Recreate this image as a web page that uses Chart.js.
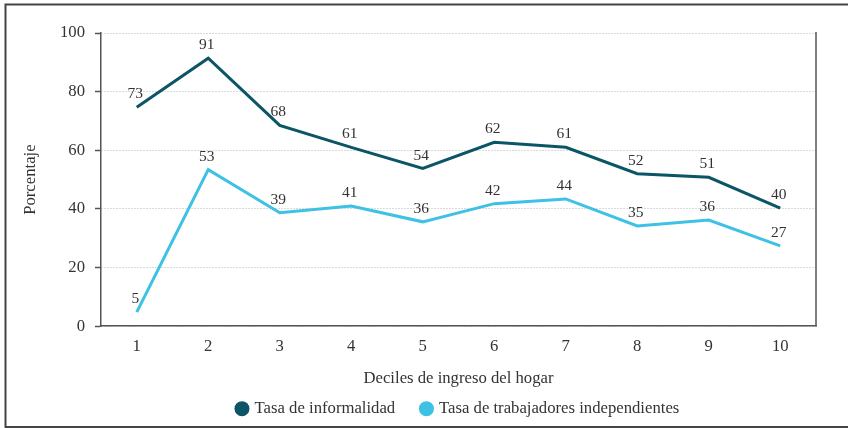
<!DOCTYPE html>
<html>
<head>
<meta charset="utf-8">
<script src="https://cdn.jsdelivr.net/npm/chart.js@4.4.1/dist/chart.umd.min.js"></script>
<style>
  html, body { margin: 0; padding: 0; background: #fff; }
  #wrap { width: 848px; height: 428px; }
</style>
</head>
<body>
<div id="wrap"><canvas id="deciles" width="848" height="428"></canvas></div>
<script>
const deciles = ['1', '2', '3', '4', '5', '6', '7', '8', '9', '10'];
const informalidad = [74.7, 91.4, 68.5, 61.0, 53.8, 62.7, 61.0, 52.0, 50.8, 40.3];
const independientes = [4.8, 53.4, 38.7, 41.0, 35.6, 41.8, 43.4, 34.2, 36.2, 27.4];
const etiquetasInformalidad = ['73', '91', '68', '61', '54', '62', '61', '52', '51', '40'];
const etiquetasIndependientes = ['5', '53', '39', '41', '36', '42', '44', '35', '36', '27'];

const serif = 'Liberation Serif, Times New Roman, serif';
const textColor = '#333';
const fontSize = 16.7;

// frame around the figure and right edge of the plot
const framePlugin = {
    id: 'frame',
    afterLayout(chart) {
        // center the legend under the plot area, not the canvas
        const lg = chart.legend;
        const area = chart.chartArea;
        const off = (area.left + area.right) / 2 - (lg.left + lg.right) / 2;
        lg.left += off;
        lg.right += off;
    },
    afterDraw(chart) {
        const ctx = chart.ctx;
        const area = chart.chartArea;
        ctx.save();
        ctx.strokeStyle = '#444';
        ctx.lineWidth = 2;
        ctx.beginPath();
        ctx.moveTo(860, 4.5);
        ctx.lineTo(5.5, 4.5);
        ctx.lineTo(5.5, 427);
        ctx.lineTo(860, 427);
        ctx.stroke();
        ctx.strokeStyle = '#555';
        ctx.lineWidth = 1.5;
        ctx.beginPath();
        ctx.moveTo(area.right, area.top - 1);
        ctx.lineTo(area.right, area.bottom);
        ctx.stroke();
        ctx.restore();
    }
};

// value labels above each point
const valueLabels = {
    id: 'valueLabels',
    afterDatasetsDraw(chart) {
        const ctx = chart.ctx;
        const sets = [etiquetasInformalidad, etiquetasIndependientes];
        ctx.save();
        ctx.font = '15.5px ' + serif;
        ctx.fillStyle = textColor;
        ctx.textAlign = 'center';
        ctx.textBaseline = 'middle';
        chart.data.datasets.forEach((ds, i) => {
            chart.getDatasetMeta(i).data.forEach((pt, j) => {
                ctx.fillText(sets[i][j], pt.x - 1.5, pt.y - 13);
            });
        });
        ctx.restore();
    }
};

const data = {
    labels: deciles,
    datasets: [
        {
            label: 'Tasa de informalidad',
            data: informalidad,
            borderColor: '#0c5566',
            backgroundColor: '#0c5566',
            borderWidth: 3,
            pointRadius: 0,
            tension: 0
        },
        {
            label: 'Tasa de trabajadores independientes',
            data: independientes,
            borderColor: '#3dc1e4',
            backgroundColor: '#3dc1e4',
            borderWidth: 3,
            pointRadius: 0,
            tension: 0
        }
    ]
};

const config = {
    type: 'line',
    data: data,
    options: {
        responsive: false,
        animation: false,
        layout: {
            padding: { left: 10, right: 32, top: 33, bottom: 1 }
        },
        plugins: {
            tooltip: { enabled: false },
            legend: {
                position: 'bottom',
                labels: {
                    usePointStyle: true,
                    pointStyle: 'circle',
                    boxWidth: 8.5,
                    boxHeight: 8.5,
                    padding: 27,
                    color: textColor,
                    font: { family: serif, size: fontSize }
                }
            }
        },
        scales: {
            x: {
                offset: true,
                grid: { display: false, drawTicks: false },
                border: { display: true, color: '#555', width: 1.5 },
                ticks: {
                    color: textColor,
                    padding: 10,
                    font: { family: serif, size: fontSize }
                },
                title: {
                    display: true,
                    text: 'Deciles de ingreso del hogar',
                    color: textColor,
                    font: { family: serif, size: fontSize },
                    padding: { top: 2, bottom: -15 }
                }
            },
            y: {
                min: 0,
                max: 100,
                afterFit(scale) { scale.width = 91; },
                grid: {
                    color: '#b5b5b5',
                    lineWidth: 1,
                    tickLength: 6,
                    tickColor: '#555',
                    tickBorderDash: [],
                    tickWidth: 1.5
                },
                border: { display: true, color: '#555', width: 1.5, dash: [1, 2] },
                ticks: {
                    stepSize: 20,
                    color: textColor,
                    padding: 10,
                    font: { family: serif, size: fontSize }
                },
                title: {
                    display: true,
                    text: 'Porcentaje',
                    color: textColor,
                    font: { family: serif, size: fontSize },
                    padding: { top: 11, bottom: 0 }
                }
            }
        }
    },
    plugins: [framePlugin, valueLabels]
};

new Chart(document.getElementById('deciles'), config);
</script>
</body>
</html>
